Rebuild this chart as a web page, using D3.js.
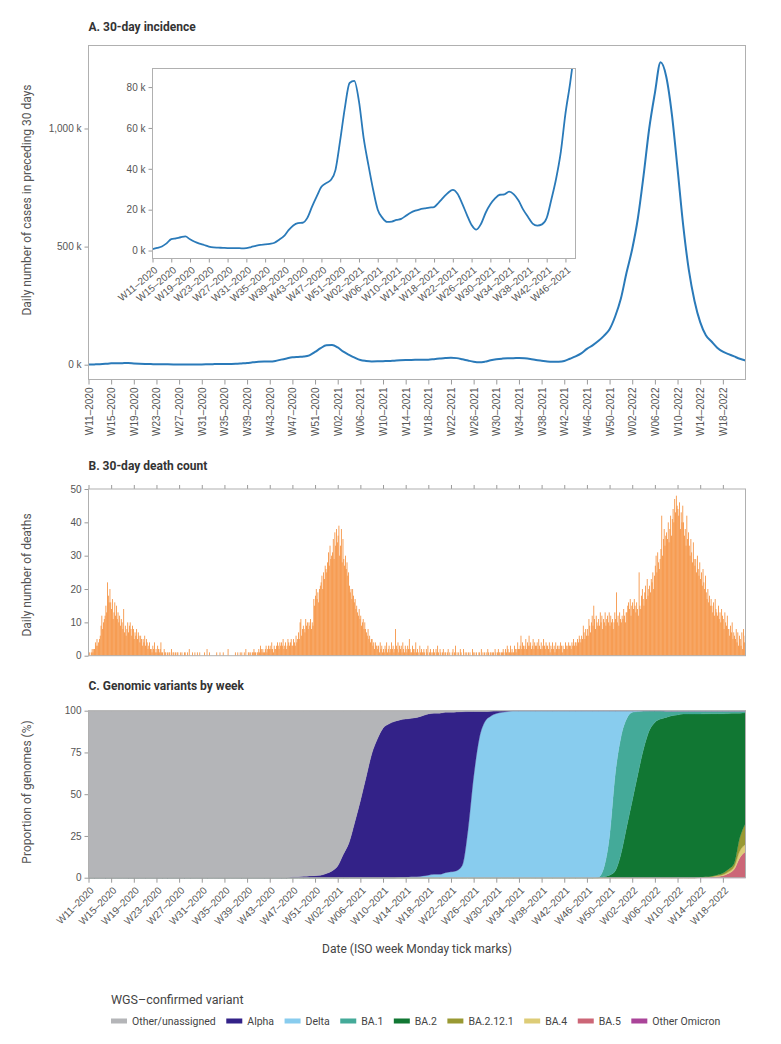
<!DOCTYPE html>
<html><head><meta charset="utf-8">
<script src="https://cdn.jsdelivr.net/npm/d3@7"></script>
<style>
body{margin:0;background:#fff;}
svg{font-family:Roboto,"Open Sans",sans-serif;}
</style></head><body>
<svg id="chart" width="781" height="1044"></svg>
<script>
// ---------------- DATA ----------------
const startDate = "2020-03-09";   // Monday of W11-2020
const endDate = "2022-05-30";
const insetEndDate = "2021-11-30";

const weekTickLabels = ["W11–2020","W15–2020","W19–2020","W23–2020","W27–2020","W31–2020","W35–2020","W39–2020","W43–2020","W47–2020","W51–2020",
 "W02–2021","W06–2021","W10–2021","W14–2021","W18–2021","W22–2021","W26–2021","W30–2021","W34–2021","W38–2021","W42–2021","W46–2021","W50–2021",
 "W02–2022","W06–2022","W10–2022","W14–2022","W18–2022"];
const insetTickCount = 23;

const incidenceTicksK = [0, 500, 1000];
const insetTicksK = [0, 20, 40, 60, 80];
const deathTicks = [0, 10, 20, 30, 40, 50];
const variantTicks = [0, 25, 50, 75, 100];

// 30-day incidence (thousands), weekly (Mondays) from W11-2020
const incidenceK = [0.7,1.3,2.0,3.5,5.6,6.0,6.5,6.9,5.5,4.3,3.4,2.7,1.9,1.5,1.4,1.3,1.2,1.2,1.2,1.1,1.2,1.7,2.3,2.8,3.0,3.3,3.8,5.3,7.0,10.0,
 12.3,13.4,13.6,16.0,21.5,26.5,31.2,33.0,34.5,39.5,54,70,82,83,73,55,42,30,20,16,14,14.2,15,15.5,17,18.5,19.5,20.2,20.6,21.0,
 21.3,23.5,26,28.3,29.7,27.8,23,17.5,12.5,10.2,13,18.5,22.6,25.5,27.3,27.5,28.8,27.5,24.5,20,16.5,13.2,12.2,12.8,15.9,25,35,48,67,82,
 100,122,150,205,280,390,490,620,800,1000,1150,1280,1220,1060,830,590,400,270,180,125,98,72,55,45,35,25,18];

// daily deaths, from 2020-03-09 (one row per ISO week)
const dailyDeaths = [
 0,1,0,1,2,1,2, 2,4,3,5,3,4,5, 6,9,12,8,10,11,12, 15,13,22,18,16,20,16, 14,17,11,13,16,12,15,
 11,13,10,12,9,11,10, 8,14,7,9,6,8,10, 7,9,10,8,6,9,8, 5,7,6,8,5,7,6, 4,6,5,3,5,4,6,
 3,5,4,2,3,4,2, 2,1,3,2,4,1,2, 1,3,2,1,2,4,1, 1,0,2,1,1,0,1, 0,1,1,0,2,0,1,
 1,0,1,0,1,1,0, 0,1,0,1,0,0,1, 1,0,0,1,0,2,0, 0,0,1,0,0,1,0, 0,1,0,0,1,0,0,
 0,0,0,1,0,0,2, 0,0,1,0,0,0,0, 0,0,0,0,1,0,0, 0,1,0,0,0,1,0, 0,0,0,0,2,0,0,
 0,0,0,0,0,0,1, 0,0,1,0,0,1,0, 1,0,0,1,0,2,0, 0,1,1,0,1,0,1, 1,2,1,1,0,1,1,
 2,1,3,2,1,2,1, 1,2,3,1,2,3,2, 3,2,4,2,1,3,2, 2,3,4,3,2,4,3, 4,3,5,2,3,4,2,
 3,5,4,3,4,5,3, 3,5,4,3,6,4,5, 7,5,10,11,6,8,9, 8,7,11,9,10,8,10, 9,11,8,10,9,17,15,
 18,20,17,19,16,20,21, 22,24,20,25,23,27,26, 25,28,31,27,33,29,30, 31,35,29,37,33,38,34, 36,39,30,33,38,28,35,
 29,27,30,26,28,24,25, 21,19,20,17,20,18,16, 17,14,15,13,12,14,11, 12,9,10,11,8,10,8, 7,6,8,5,6,4,5,
 5,3,4,2,4,3,3, 2,3,1,4,2,3,1, 2,1,3,2,4,1,2, 3,1,2,4,2,3,1, 2,8,3,2,4,1,3,
 2,3,1,4,2,1,3, 2,1,3,2,5,2,1, 1,3,2,1,2,4,1, 2,1,0,3,1,2,1, 1,2,1,0,2,1,3,
 0,1,2,1,0,1,2, 1,0,2,1,3,1,0, 2,1,0,1,2,0,1, 1,0,1,2,0,1,0, 0,1,2,0,1,3,0,
 1,0,1,0,2,1,0, 0,2,0,1,0,1,0, 1,0,1,0,0,2,1, 0,1,0,1,0,0,1, 1,0,2,0,1,0,1,
 0,1,0,2,1,0,1, 1,0,1,1,0,2,1, 0,1,2,1,1,0,1, 1,2,1,0,2,1,3, 2,1,1,3,1,2,1,
 1,3,2,1,2,4,2, 2,3,6,2,4,3,2, 3,5,2,4,3,6,3, 4,2,3,5,2,4,3, 3,4,2,5,3,2,4,
 2,3,5,3,2,4,3, 3,2,4,1,3,2,4, 2,3,1,4,2,3,2, 3,2,4,3,1,3,2, 2,4,3,2,3,4,3,
 3,2,4,3,5,3,4, 4,3,5,4,6,5,4, 6,5,9,7,5,8,6, 8,6,11,9,7,10,12, 9,15,11,8,12,10,9,
 11,9,13,10,12,8,11, 10,13,9,11,12,10,13, 9,12,10,11,8,10,13, 11,19,10,12,9,13,11, 10,12,11,14,12,10,13,
 13,15,16,14,17,12,15, 16,14,17,15,13,16,14, 12,25,15,14,18,20,17, 15,19,21,17,23,18,20, 21,19,23,22,25,20,24,
 27,30,25,31,28,26,29, 32,42,30,35,38,33,36, 37,35,40,34,38,42,36, 41,44,40,47,43,48,45, 44,42,46,38,43,40,45,
 40,36,38,33,42,35,37, 33,30,35,31,28,34,29, 27,29,25,30,26,24,28, 23,25,21,26,22,20,24, 19,17,20,16,18,15,17,
 15,13,16,12,17,14,13, 12,15,11,13,10,14,12, 11,8,13,10,9,12,8, 8,6,9,7,10,5,7, 6,5,8,4,7,3,6,
 5,3,7,2,8,4,6
];

// weekly share of WGS-confirmed genomes (%), from W11-2020 (117 weeks)
const zeros = n => Array(n).fill(0);
const otherPct = [...Array(36).fill(100),
 99.5,99.5,99.2,99,98.8,98.5,97.5,96,93,86,79,67,54,40,26,17,10.5,8,6.5,5.5,5,4.5,4,3,2,1.5,1.5,1,1,0.8,0.6,
 0.5,0.5,0.5,0.5,0.3,0.2,0.2,0.2, ...zeros(27), ...Array(15).fill(0.3)];
const alphaPct = [...zeros(36),
 0.5,0.5,0.8,1,1.2,1.5,2.5,4,7,14,21,33,46,60,74,83,89.5,92,93.5,94.3,94.7,95,95.5,96,96.5,96.5,96.5,96,95.5,95,92,71,39,16,6,3,1.5,0.8,0.3,
 ...zeros(42)];
const deltaPct = [...zeros(55),
 0.2,0.3,0.5,0.5,1,1.5,2,2,3,3.5,4.2,7.4,28.5,60.5,83.5,93.5,96.7,98.3,99,99.5,
 ...Array(15).fill(100), 99.7,94,75,38,16,5,1,0.5,0.2, ...zeros(18)];
const ba1Pct = [...zeros(90),
 0.3,5.5,23.5,58,70,65,53,37.5,22.8,12,7,5,3.7,2.7,2.2,1.7,1.7,1.7,1.7,1.6,1.5,1.5,1.5,1.4,1.3,1.2,1.1];
const ba2Pct = [...zeros(91),
 0.5,1.5,4,14,30,46,62,77,88,93,95,96,97,97.5,98,98,98,97.8,97.6,97.3,96.6,95.6,93.3,89.9,74.5,66.1];
const ba2121Pct = [...zeros(108), 0.1,0.2,0.3,0.5,0.8,1.5,2,8,12.5];
const ba4Pct = [...zeros(108), 0,0.1,0.2,0.4,0.6,1,1.5,4,4.5];
const ba5Pct = [...zeros(108), 0.1,0.2,0.4,0.7,1.2,2.5,5,12,15.5];
const otherOmicronPct = zeros(117);

const variantNames = ["Other/unassigned","Alpha","Delta","BA.1","BA.2","BA.2.12.1","BA.4","BA.5","Other Omicron"];
const variantColors = ["#b4b5b8","#332288","#88ccee","#44aa99","#117733","#999933","#ddcc77","#cc6677","#aa4499"];
const variantSeries = [otherPct, alphaPct, deltaPct, ba1Pct, ba2Pct, ba2121Pct, ba4Pct, ba5Pct, otherOmicronPct];

// ---------------- CHART ----------------
const parse = d3.utcParse("%Y-%m-%d");
const t0 = parse(startDate), t1 = parse(endDate), tInsetEnd = parse(insetEndDate);
const weekDate = i => d3.utcDay.offset(t0, 7 * i);
const dayDate = i => d3.utcDay.offset(t0, i);
const tickDates = weekTickLabels.map((_, i) => d3.utcDay.offset(t0, 28 * i));

const svg = d3.select("#chart");
const L = 88.5, R = 745.5;
const x = d3.scaleUtc().domain([t0, t1]).range([L, R]);
const tickCol = "#555", axisCol = "#9a9a9a", frameCol = "#b0b0b0";

function styleAxis(g) {
  g.select(".domain").remove();
  g.selectAll(".tick line").attr("stroke", axisCol);
  g.selectAll(".tick text").attr("fill", tickCol).style("font-size", "10px");
}
function frame(top, bottom, left = L, right = R) {
  svg.append("rect").attr("x", left).attr("y", top).attr("width", right - left).attr("height", bottom - top)
    .attr("fill", "none").attr("stroke", frameCol).attr("stroke-width", 1);
}
function panelTitle(txt, y) {
  svg.append("text").attr("x", L).attr("y", y).text(txt)
    .attr("fill", "#333").style("font-size", "12px").style("font-weight", "700");
}
function yTitle(txt, cy) {
  svg.append("text").attr("transform", `translate(31,${cy}) rotate(-90)`).attr("text-anchor", "middle")
    .text(txt).attr("fill", "#555").style("font-size", "12px");
}

// ===== Panel A =====
const A = {top: 45.5, bottom: 379.5};
const yA = d3.scaleLinear().domain([-62.7, 1351.4]).range([A.bottom, A.top]);
panelTitle("A. 30-day incidence", 31);
yTitle("Daily number of cases in preceding 30 days", 200);

svg.append("g").attr("transform", `translate(${L},0)`)
  .call(d3.axisLeft(yA).tickValues(incidenceTicksK).tickSize(4).tickPadding(3).tickFormat(d => d3.format(",")(d) + " k"))
  .call(styleAxis);
svg.append("g").attr("transform", `translate(0,${A.bottom})`)
  .call(d3.axisBottom(x).tickValues(tickDates).tickSize(5).tickFormat((d, i) => weekTickLabels[i]))
  .call(styleAxis)
  .call(g => g.selectAll(".tick text").attr("transform", "rotate(-90)").attr("text-anchor", "end")
    .attr("x", -8).attr("y", 0).attr("dy", "0.35em"));

const lineA = d3.line().x((d, i) => x(weekDate(i))).y(d => yA(d)).curve(d3.curveMonotoneX);
svg.append("path").datum(incidenceK).attr("d", lineA).attr("fill", "none")
  .attr("stroke", "#2a7ab9").attr("stroke-width", 2).attr("stroke-linejoin", "round");
frame(A.top, A.bottom);

// Inset
const I = {left: 152.5, right: 575.5, top: 68.5, bottom: 258.5};
const xI = d3.scaleUtc().domain([t0, tInsetEnd]).range([I.left, I.right]);
const yI = d3.scaleLinear().domain([-3.9, 89.1]).range([I.bottom, I.top]);
svg.append("rect").attr("x", I.left).attr("y", I.top).attr("width", I.right - I.left).attr("height", I.bottom - I.top)
  .attr("fill", "#fff");
svg.append("defs").append("clipPath").attr("id", "insetClip").append("rect")
  .attr("x", I.left).attr("y", I.top).attr("width", I.right - I.left).attr("height", I.bottom - I.top);
const lineI = d3.line().x((d, i) => xI(weekDate(i))).y(d => yI(d)).curve(d3.curveMonotoneX);
svg.append("path").datum(incidenceK.slice(0, 93)).attr("d", lineI).attr("clip-path", "url(#insetClip)")
  .attr("fill", "none").attr("stroke", "#2a7ab9").attr("stroke-width", 1.8).attr("stroke-linejoin", "round");
svg.append("g").attr("transform", `translate(${I.left},0)`)
  .call(d3.axisLeft(yI).tickValues(insetTicksK).tickSize(4).tickPadding(3).tickFormat(d => d + " k"))
  .call(styleAxis);
svg.append("g").attr("transform", `translate(0,${I.bottom})`)
  .call(d3.axisBottom(xI).tickValues(tickDates.slice(0, insetTickCount)).tickSize(4)
    .tickFormat((d, i) => weekTickLabels[i]))
  .call(styleAxis)
  .call(g => g.selectAll(".tick text").attr("text-anchor", "end").attr("x", 0).attr("y", 0).attr("dy", "0.35em")
    .attr("transform", "translate(3,10) rotate(-40)"));
frame(I.top, I.bottom, I.left, I.right);

// ===== Panel B =====
const B = {top: 489, bottom: 655.7};
const yB = d3.scaleLinear().domain([0, 50]).range([B.bottom, B.top]);
panelTitle("B. 30-day death count", 470);
yTitle("Daily number of deaths", 575);
svg.append("g").selectAll("rect").data(dailyDeaths).join("rect")
  .attr("x", (d, i) => x(dayDate(i)))
  .attr("width", (d, i) => x(dayDate(i + 1)) - x(dayDate(i)))
  .attr("y", d => yB(d)).attr("height", d => yB(0) - yB(d))
  .attr("fill", "#f58b34");
svg.append("g").attr("transform", `translate(${L},0)`)
  .call(d3.axisLeft(yB).tickValues(deathTicks).tickSize(4).tickPadding(3))
  .call(styleAxis);
svg.append("g").attr("transform", `translate(0,${B.top})`)
  .call(d3.axisTop(x).tickValues(tickDates).tickSize(4).tickFormat(""))
  .call(styleAxis);
frame(B.top, B.bottom);

// ===== Panel C =====
const C = {top: 710.7, bottom: 877.7};
const yC = d3.scaleLinear().domain([0, 100]).range([C.bottom, C.top]);
panelTitle("C. Genomic variants by week", 690);
yTitle("Proportion of genomes (%)", 792);
const rows = otherPct.map((_, i) => {
  const r = {i};
  variantNames.forEach((n, k) => r[n] = variantSeries[k][i]);
  return r;
});
const stackOrder = variantNames.slice().reverse();
const stacked = d3.stack().keys(stackOrder)(rows);
const area = d3.area().x(d => x(weekDate(d.data.i))).y0(d => yC(d[0])).y1(d => yC(d[1])).curve(d3.curveMonotoneX);
const colorOf = d3.scaleOrdinal().domain(variantNames).range(variantColors);
svg.append("g").selectAll("path").data(stacked).join("path")
  .attr("d", area).attr("fill", d => colorOf(d.key)).attr("stroke", d => colorOf(d.key)).attr("stroke-width", 0.3);
svg.append("g").attr("transform", `translate(${L},0)`)
  .call(d3.axisLeft(yC).tickValues(variantTicks).tickSize(4).tickPadding(3))
  .call(styleAxis);
svg.append("g").attr("transform", `translate(0,${C.bottom})`)
  .call(d3.axisBottom(x).tickValues(tickDates).tickSize(5).tickFormat((d, i) => weekTickLabels[i]))
  .call(styleAxis)
  .call(g => g.selectAll(".tick text").attr("text-anchor", "end").attr("x", 0).attr("y", 0).attr("dy", "0.35em")
    .attr("transform", "translate(3,11) rotate(-45)"));
frame(C.top, C.bottom);

svg.append("text").attr("x", (L + R) / 2).attr("y", 953).attr("text-anchor", "middle")
  .text("Date (ISO week Monday tick marks)").attr("fill", "#444").style("font-size", "12px");

// ===== Legend =====
svg.append("text").attr("x", 111).attr("y", 1004).text("WGS–confirmed variant")
  .attr("fill", "#444").style("font-size", "12.5px");
let lx = 111;
variantNames.forEach((n, k) => {
  const g = svg.append("g").attr("transform", `translate(${lx},1021)`);
  g.append("rect").attr("x", 0).attr("y", -2.5).attr("width", 16).attr("height", 5).attr("fill", variantColors[k]);
  const t = g.append("text").attr("x", 21).attr("y", 0).attr("dy", "0.35em").text(n)
    .attr("fill", "#444").style("font-size", "10.5px");
  lx += 21 + t.node().getComputedTextLength() + 10.5;
});
</script>
</body></html>
